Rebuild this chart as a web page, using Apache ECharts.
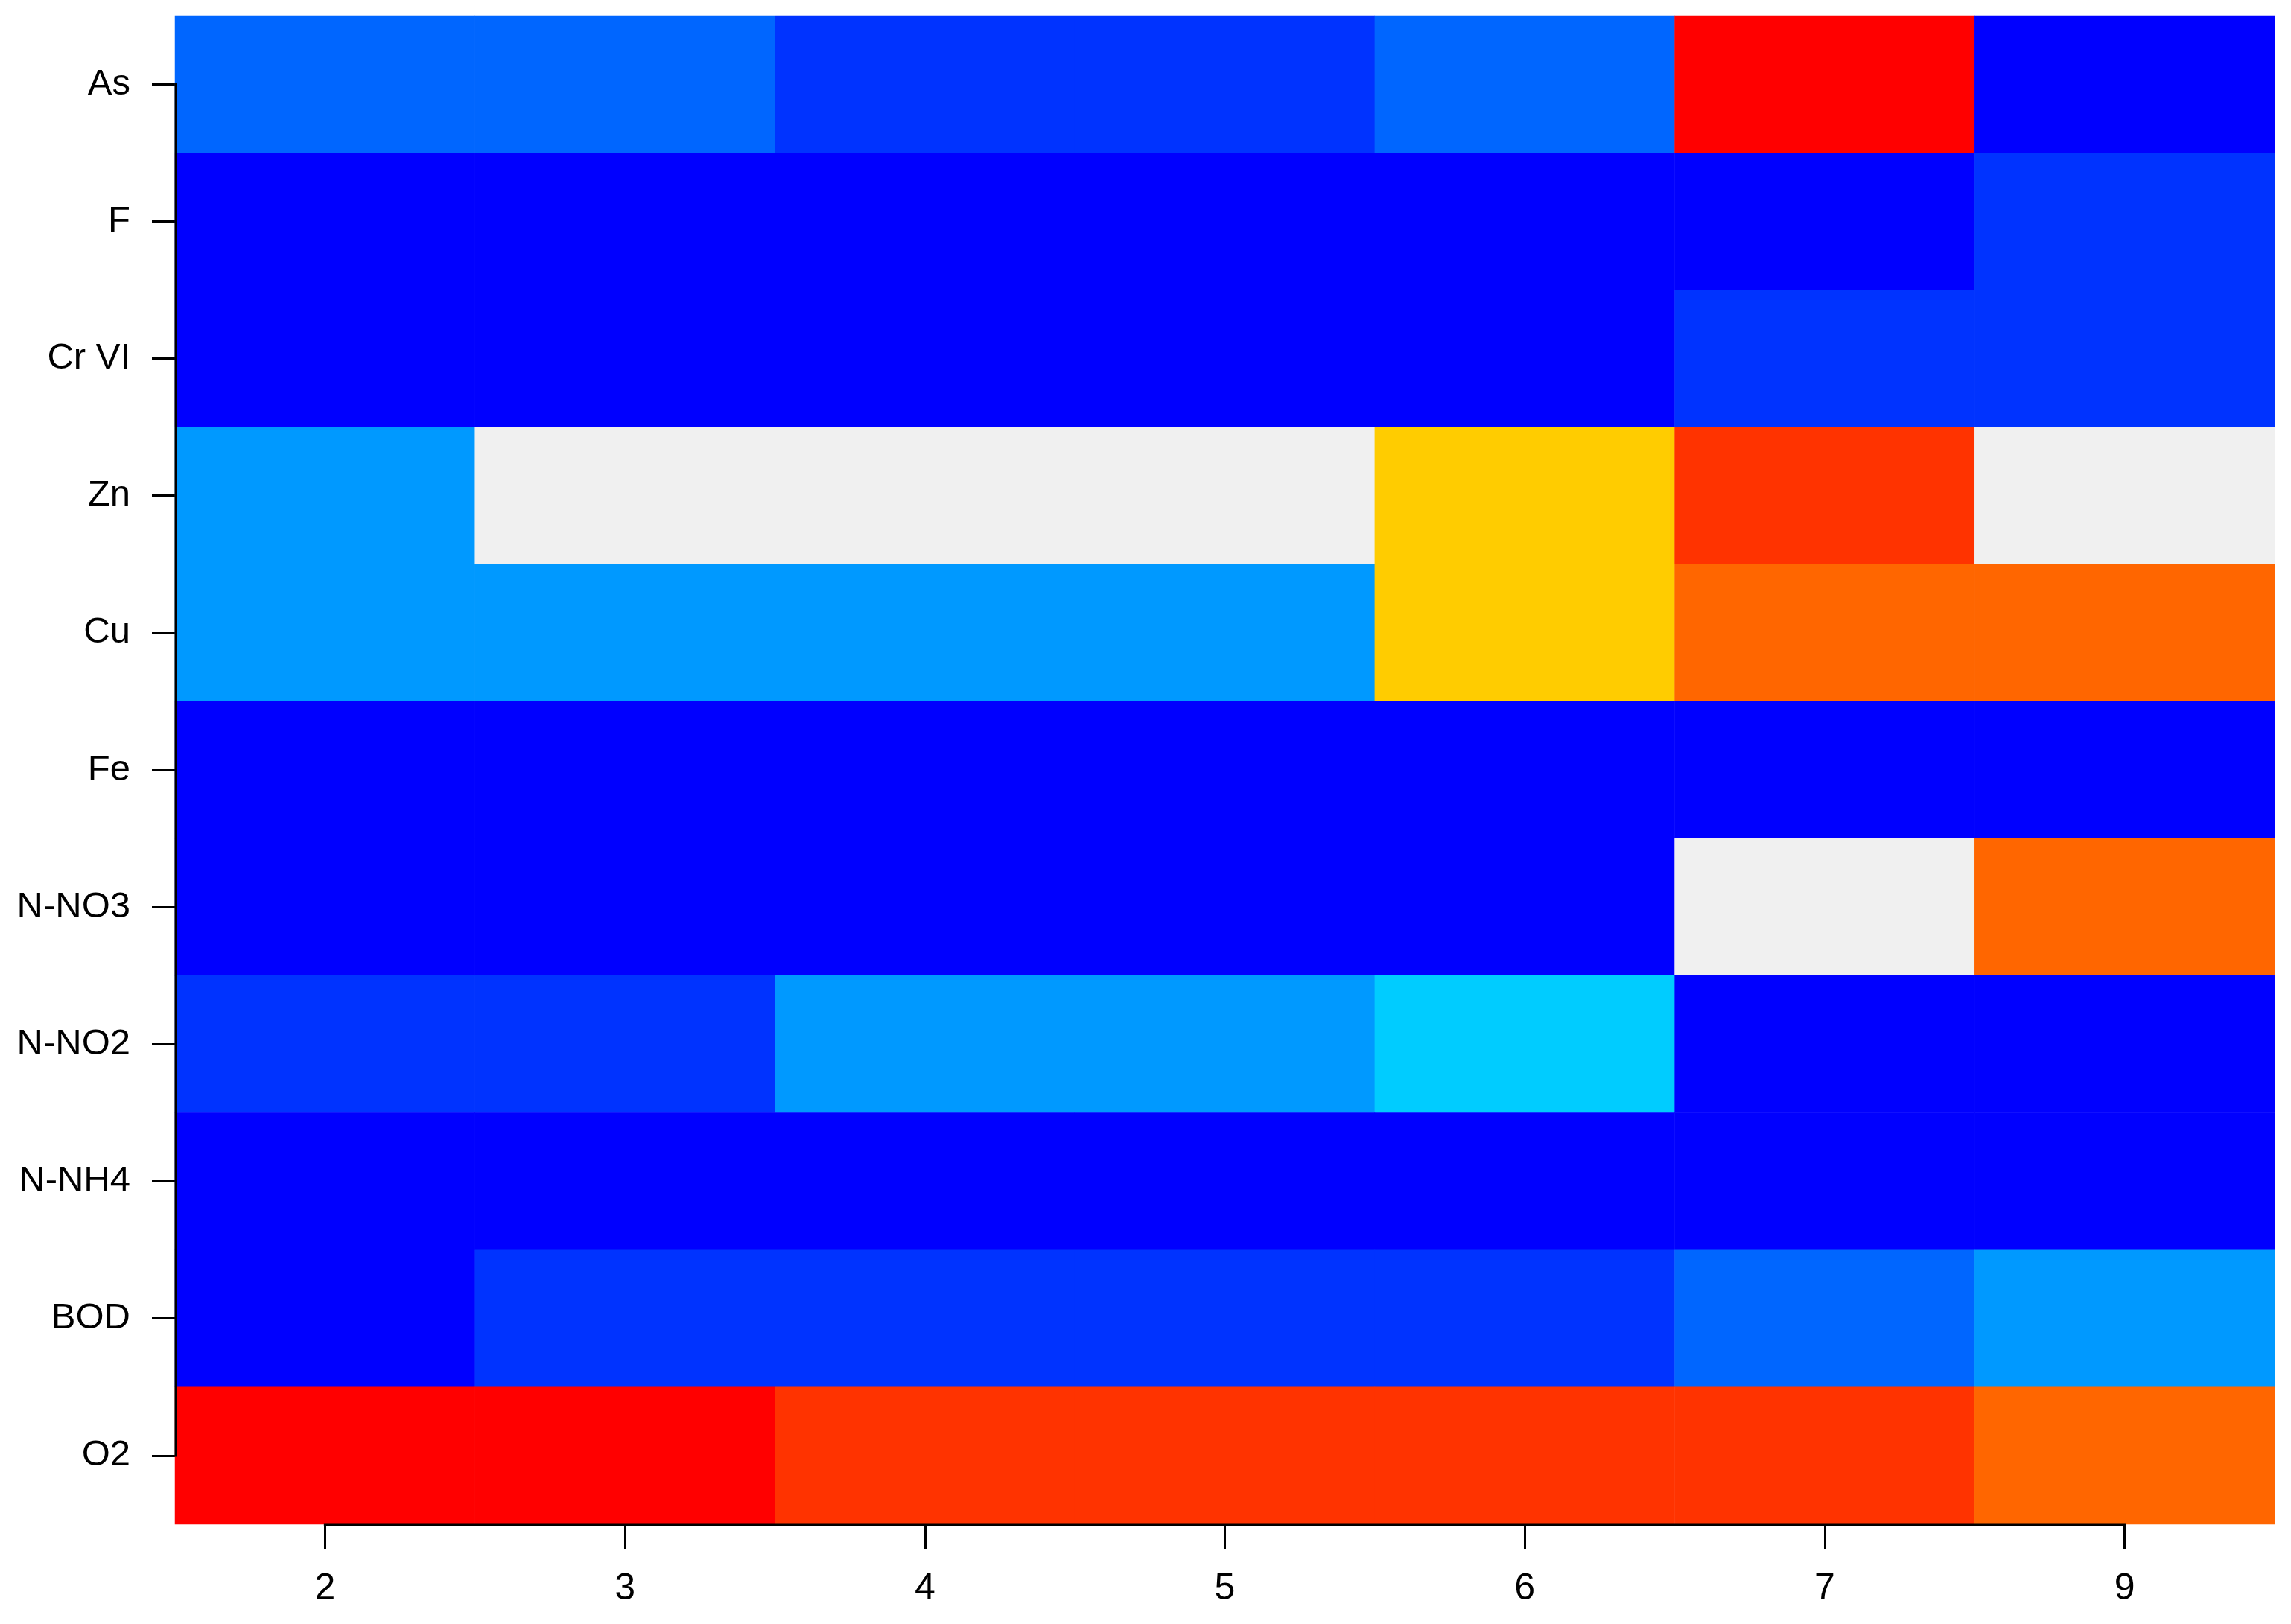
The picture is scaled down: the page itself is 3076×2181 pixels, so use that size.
<!DOCTYPE html>
<html><head><meta charset="utf-8">
<script src="https://cdn.jsdelivr.net/npm/echarts@6/dist/echarts.min.js"></script>
<style>html,body{margin:0;padding:0;background:#fff}#c{width:3076px;height:2181px}</style>
</head><body><div id="c"></div>
<script>
const xCategories = ['2','3','4','5','6','7','9'];
const yCategories = ['As','F','Cr VI','Zn','Cu','Fe','N-NO3','N-NO2','N-NH4','BOD','O2'];
const levelColors = ['#0000FF','#0033FF','#0066FF','#0099FF','#00CCFF','#F0F0F0','#FFCC00','#FF6600','#FF3300','#FF0000'];
// class level (1..10) of each cell, per row, columns in xCategories order
const As   = [3,3,2,2,3,10,1];
const F    = [1,1,1,1,1,1,2];
const CrVI = [1,1,1,1,1,2,2];
const Zn   = [4,6,6,6,7,9,6];
const Cu   = [4,4,4,4,7,8,8];
const Fe   = [1,1,1,1,1,1,1];
const NNO3 = [1,1,1,1,1,6,8];
const NNO2 = [2,2,4,4,5,1,1];
const NNH4 = [1,1,1,1,1,1,1];
const BOD  = [1,2,2,2,2,3,4];
const O2   = [10,10,9,9,9,9,8];
const rows = [As,F,CrVI,Zn,Cu,Fe,NNO3,NNO2,NNH4,BOD,O2];

const data = [];
rows.forEach((r, yi) => r.forEach((v, xi) => data.push([xi, yi, v])));

const FONT = '"Liberation Sans", Arial, sans-serif';
const chart = echarts.init(document.getElementById('c'), null, {renderer:'canvas'});
const option = {
  animation: false,
  backgroundColor: '#ffffff',
  grid: {left: 235, top: 21, width: 2819, height: 2026, containLabel: false},
  xAxis: {
    type: 'category', data: xCategories, position: 'bottom',
    axisLine: {show: false},
    axisTick: {show: true, alignWithLabel: true, length: 33, lineStyle: {color: '#000', width: 3}},
    axisLabel: {color: '#000', fontSize: 50, fontFamily: FONT, margin: 62},
    splitLine: {show: false}
  },
  yAxis: {
    type: 'category', data: yCategories, inverse: true,
    axisLine: {show: false},
    axisTick: {show: true, alignWithLabel: true, length: 31, lineStyle: {color: '#000', width: 3}},
    axisLabel: {color: '#000', fontSize: 49, fontFamily: FONT, margin: 60},
    splitLine: {show: false}
  },
  visualMap: {
    type: 'piecewise', show: false, dimension: 2,
    pieces: levelColors.map((c, i) => ({value: i + 1, color: c}))
  },
  series: [{
    type: 'heatmap', data: data,
    itemStyle: {borderWidth: 0},
    emphasis: {disabled: true}
  }]
};
chart.setOption(option);

// R-style axis lines spanning first to last tick
const x0 = chart.convertToPixel({xAxisIndex: 0}, 0);
const x1 = chart.convertToPixel({xAxisIndex: 0}, 1);
const xN = chart.convertToPixel({xAxisIndex: 0}, xCategories.length - 1);
const y0 = chart.convertToPixel({yAxisIndex: 0}, 0);
const y1 = chart.convertToPixel({yAxisIndex: 0}, 1);
const yN = chart.convertToPixel({yAxisIndex: 0}, yCategories.length - 1);
const bandX = x1 - x0, bandY = y1 - y0;
const leftEdge = x0 - bandX / 2;
const bottomEdge = yN + bandY / 2;
chart.setOption({
  graphic: [
    {type: 'line', z: 100, shape: {x1: x0 - 1.5, y1: bottomEdge + 1, x2: xN + 1.5, y2: bottomEdge + 1}, style: {stroke: '#000', lineWidth: 3}},
    {type: 'line', z: 100, shape: {x1: leftEdge + 1, y1: y0 - 1.5, x2: leftEdge + 1, y2: yN + 1.5}, style: {stroke: '#000', lineWidth: 3}}
  ]
});
</script>
</body></html>
